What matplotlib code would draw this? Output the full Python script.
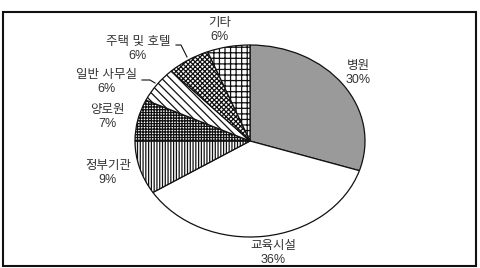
"""Pie chart of building types (Korean labels)."""
import matplotlib.pyplot as plt
import matplotlib.patches as mpatches

labels = ["병원", "교육시설", "정부기관", "양로원", "일반 사무실", "주택 및 호텔", "기타"]
shares = [30, 36, 9, 7, 6, 6, 6]
colors = ["#9a9a9a", "white", "white", "white", "white", "white", "white"]
hatches = ["", "", "||||||", "++++++", "\\\\\\\\", "xxxxxxx", "+++"]

# label centres in pixels (x, y from top)
label_px = [(358, 73), (273, 253), (108, 173), (107, 117), (107, 82), (138, 49), (220, 30)]


def main():
    """Main."""
    plt.rcParams["font.family"] = ["Liberation Sans", "Noto Sans CJK KR"]
    plt.rcParams["hatch.linewidth"] = 0.9
    W, H = 481, 268
    fig = plt.figure(figsize=(W / 100, H / 100), dpi=100)
    ax = fig.add_axes([0, 0, 1, 1])

    cx, cy = 250, 141  # pie centre, px from top
    rx, ry = 115, 96
    wedges, _ = ax.pie(
        shares,
        colors=colors,
        startangle=90,
        counterclock=False,
        wedgeprops=dict(edgecolor="#111111", linewidth=0.9),
    )
    for w, h in zip(wedges, hatches):
        w.set_hatch(h)

    ax.set_aspect("auto")
    ax.set_xlim(-cx / rx, (W - cx) / rx)
    ax.set_ylim(-(H - cy) / ry, cy / ry)
    ax.axis("off")

    def to_data(px, py):
        return (px - cx) / rx, (cy - py) / ry

    for lab, share, (px, py) in zip(labels, shares, label_px):
        x, y = to_data(px, py)
        ax.text(x, y, f"{lab}\n{share}%", ha="center", va="center",
                fontsize=9, color="#333333", linespacing=1.2)

    # leader lines
    for pts in ([(176, 45), (181, 45), (187, 57)],
                [(142, 80), (150, 80), (155, 83)]):
        xs, ys = zip(*[to_data(*p) for p in pts])
        ax.plot(xs, ys, color="#111111", linewidth=0.8)

    # outer frame
    fig.patches.append(mpatches.Rectangle(
        (3 / W, (H - 266) / H), 473 / W, 254 / H,
        transform=fig.transFigure, fill=False, edgecolor="#111111",
        linewidth=1.5))

    fig.savefig("out.png", dpi=100)
    plt.close(fig)


if __name__ == "__main__":
    main()
